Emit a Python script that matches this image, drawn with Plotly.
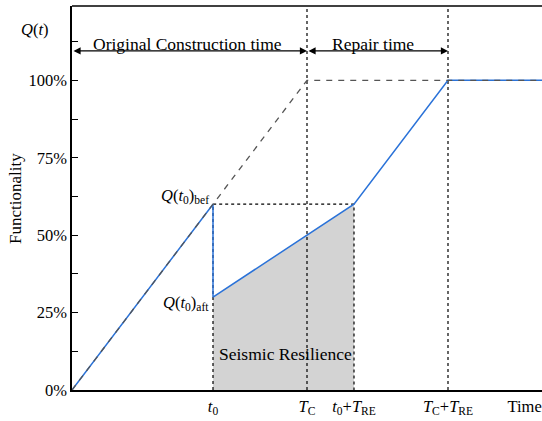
import plotly.graph_objects as go

# Time markers (arbitrary time units)
T0 = 3          # earthquake occurrence t0
TC = 5          # original construction time T_C
TRE = 3         # repair time T_RE
T_END = 10

# Functionality levels
Q_BEF = 0.60
Q_AFT = 0.30

# Actual functionality curve
time = [0, 3, 3, 6, 8, 10]
functionality = [0, 0.60, 0.30, 0.60, 1.00, 1.00]

# Planned construction curve (no earthquake)
planned_time = [0, 5, 10]
planned_q = [0, 1.00, 1.00]

# Shaded resilience area (between t0 and t0+T_RE under the curve)
res_time = [3, 3, 5, 6, 6]
res_q = [0, 0.30, 0.50, 0.60, 0]

tick_vals = [T0, TC, T0 + TRE, TC + TRE, 9.63]
tick_text = ["<i>t</i><sub>0</sub>",
             "<i>T</i><sub>C</sub>",
             "<i>t</i><sub>0</sub>+<i>T</i><sub>RE</sub>",
             "<i>T</i><sub>C</sub>+<i>T</i><sub>RE</sub>",
             "Time"]

Y_TOP = 1.24
ARROW_Y = 1.095
FONT = "Times New Roman, Liberation Serif, DejaVu Serif, serif"
LABEL = dict(size=17.5, family=FONT, color="black")

fig = go.Figure()

fig.add_trace(go.Scatter(x=res_time, y=res_q, mode="lines", fill="toself",
                         fillcolor="#d3d3d3", line=dict(width=0),
                         hoverinfo="skip", showlegend=False))

# Dotted guide lines
dot = dict(color="black", width=1.2, dash="dot")
fig.add_trace(go.Scatter(x=[TC, TC], y=[0, Y_TOP], mode="lines", line=dot, showlegend=False))
fig.add_trace(go.Scatter(x=[TC + TRE, TC + TRE], y=[0, Y_TOP], mode="lines", line=dot, showlegend=False))
fig.add_trace(go.Scatter(x=[T0, T0, T0 + TRE, T0 + TRE], y=[0, Q_BEF, Q_BEF, 0],
                         mode="lines", line=dot, showlegend=False))

fig.add_trace(go.Scatter(x=time, y=functionality, mode="lines",
                         line=dict(color="#2a72d8", width=1.5), showlegend=False))

fig.add_trace(go.Scatter(x=planned_time, y=planned_q, mode="lines",
                         line=dict(color="#555555", width=1.3, dash="6px,6px"),
                         showlegend=False))

# Double-headed span arrows
for x0, x1 in [(0, TC), (TC, TC + TRE)]:
    fig.add_annotation(x=x1, y=ARROW_Y, ax=x0, ay=ARROW_Y, xref="x", yref="y",
                       axref="x", ayref="y", showarrow=True, arrowside="end+start",
                       arrowhead=2, arrowsize=1.3, arrowwidth=1.1, arrowcolor="black",
                       text="", standoff=0, startstandoff=0)

fig.add_annotation(x=2.45, y=1.117, text="Original Construction time", showarrow=False,
                   xref="x", yref="y", font=LABEL)
fig.add_annotation(x=6.4, y=1.117, text="Repair time", showarrow=False,
                   xref="x", yref="y", font=LABEL)
fig.add_annotation(x=4.54, y=0.117, text="Seismic Resilience", showarrow=False,
                   xref="x", yref="y", font=LABEL)
fig.add_annotation(x=T0, y=0.625, xshift=-2, xanchor="right",
                   text="<i>Q</i>(<i>t</i><sub>0</sub>)<sub>bef</sub>", showarrow=False,
                   xref="x", yref="y", font=dict(size=16.5, family=FONT, color="black"))
fig.add_annotation(x=T0, y=0.28, xshift=-2, xanchor="right",
                   text="<i>Q</i>(<i>t</i><sub>0</sub>)<sub>aft</sub>", showarrow=False,
                   xref="x", yref="y", font=dict(size=16.5, family=FONT, color="black"))
fig.add_annotation(x=-0.045, y=0.97, xref="paper", yref="paper", xanchor="right",
                   text="<i>Q</i>(<i>t</i>)", showarrow=False,
                   font=dict(size=16.5, family=FONT, color="black"))
fig.add_annotation(x=-0.146, y=0.5, xref="paper", yref="paper", textangle=-90,
                   text="Functionality", showarrow=False,
                   font=dict(size=17, family=FONT, color="black"))

# Top frame line
fig.add_shape(type="line", xref="paper", yref="paper", x0=0, x1=1, y0=1, y1=1,
              line=dict(color="black", width=1.5))

fig.update_layout(
    width=542, height=421,
    margin=dict(l=72, r=0, t=6, b=31),
    plot_bgcolor="white", paper_bgcolor="white",
    font=dict(family=FONT, size=16.5, color="black"),
    xaxis=dict(range=[0, T_END], showgrid=False, zeroline=False,
               showline=True, linecolor="black", linewidth=1.5,
               tickmode="array", tickvals=tick_vals, ticktext=tick_text,
               ticks="", tickfont=dict(size=16.5, family=FONT)),
    yaxis=dict(range=[0, Y_TOP], showgrid=False, zeroline=False,
               showline=True, linecolor="black", linewidth=1.5,
               tickmode="linear", tick0=0, dtick=0.25, tickformat=".0%",
               ticks="inside", ticklen=6, tickcolor="black",
               minor=dict(tickmode="linear", tick0=0, dtick=0.125, ticks="inside",
                          ticklen=6, tickcolor="black"),
               tickfont=dict(size=16.5, family=FONT)),
)

fig.write_html("out.html")
